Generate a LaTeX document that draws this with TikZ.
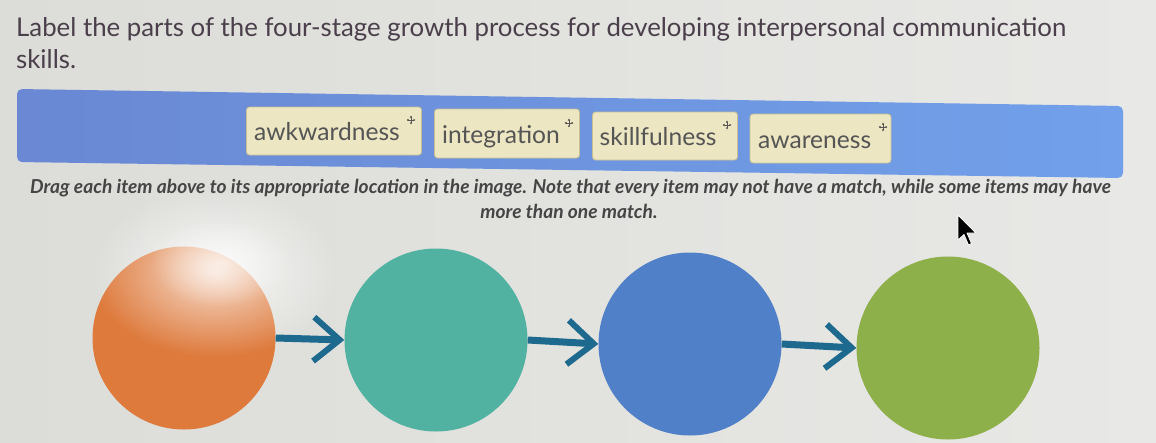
\documentclass[tikz,border=0pt]{standalone}
\usepackage{fontspec}
\setmainfont{Lato}
\usetikzlibrary{arrows.meta,fadings}
\definecolor{bgL}{HTML}{DCDCD8}
\definecolor{bgR}{HTML}{E8E8E6}
\definecolor{bandL}{HTML}{6A88D3}
\definecolor{bandR}{HTML}{72A0EA}
\definecolor{tilefill}{HTML}{ECE6C2}
\definecolor{tileedge}{HTML}{C9BF90}
\definecolor{tiletext}{HTML}{555555}
\definecolor{titletext}{HTML}{4A3F4A}
\definecolor{insttext}{HTML}{454545}
\definecolor{corange}{HTML}{DE7A3C}
\definecolor{cteal}{HTML}{52B2A2}
\definecolor{cblue}{HTML}{5080C8}
\definecolor{cgreen}{HTML}{8DB04B}
\definecolor{arrowc}{HTML}{1D6A8E}
\tikzfading[name=glare, inner color=transparent!0, outer color=transparent!100]
\tikzset{
  tile/.style={draw=tileedge, line width=0.8pt, fill=tilefill, rounded corners=3pt, inner sep=0pt},
  tiletxt/.style={anchor=base west, inner sep=0pt, text=tiletext, font=\fontsize{24.6}{28}\selectfont},
  titletxt/.style={anchor=base west, inner sep=0pt, text=titletext, font=\fontsize{25.8}{30}\selectfont},
  insttxt/.style={inner sep=0pt, text=insttext, font=\fontsize{19.2}{22}\selectfont\bfseries\itshape},
  stage/.style={circle, inner sep=0pt, minimum size=183pt},
  flow/.style={draw=arrowc, line width=7pt, -{Straight Barb[length=26pt, width=44pt, line width=6pt]}},
  moveicon/.pic={\draw[tiletext, line width=0.6pt, {Latex[length=2pt,width=2.5pt]}-{Latex[length=2pt,width=2.5pt]}] (-4.5,0) -- (4.5,0);
                 \draw[tiletext, line width=0.6pt, {Latex[length=2pt,width=2.5pt]}-{Latex[length=2pt,width=2.5pt]}] (0,-4.5) -- (0,4.5);}
}
\begin{document}
\begin{tikzpicture}[x=1pt,y=-1pt]
\useasboundingbox (0,0) rectangle (1156,442);
\shade[left color=bgL, right color=bgR] (0,0) rectangle (1156,442);

% title
\node[titletxt] (title1) at (16,36)
  {Label the parts of the four-stage growth process for developing interpersonal communication};
\node[titletxt] (title2) at (16,68) {skills.};

% band
\shade[left color=bandL, right color=bandR, rounded corners=5pt] (17,89) -- (1123,106) -- (1123,178) -- (17,162) -- cycle;

% tiles
\node[tile, minimum width=175pt, minimum height=48pt] (t1) at (334,131) {};
\node[tile, minimum width=145pt, minimum height=49pt] (t2) at (507,133.5) {};
\node[tile, minimum width=145pt, minimum height=48pt] (t3) at (665,136) {};
\node[tile, minimum width=141pt, minimum height=49pt] (t4) at (820.5,138.5) {};
\node[tiletxt] (w1) at (254,140) {awkwardness};
\node[tiletxt] (w2) at (442,143) {integration};
\node[tiletxt] (w3) at (599.5,145) {skillfulness};
\node[tiletxt] (w4) at (758,148) {awareness};
\pic at (411,120) {moveicon};
\pic at (569,123) {moveicon};
\pic at (727,125) {moveicon};
\pic at (883,127) {moveicon};

% instructions
\node[insttxt, anchor=base west] (inst1) at (30,193)
  {Drag each item above to its appropriate location in the image. Note that every item may not have a match, while some items may have};
\node[insttxt, anchor=base] (inst2) at (569,218) {more than one match.};

% cursor
\filldraw[fill=black, draw=white, line width=0.8pt, line join=round]
  (958,215) -- (958,240) -- (964,234.5) -- (968.5,245) -- (971.5,243.5) -- (967,233) -- (976,233) -- cycle;

% stages
\node[stage, fill=corange] (c1) at (184,338) {};
\node[stage, fill=cteal] (c2) at (436,340) {};
\node[stage, fill=cblue] (c3) at (690,344) {};
\node[stage, fill=cgreen] (c4) at (948,348) {};
\fill[white, opacity=0.75, path fading=glare] (215,272) ellipse [x radius=125, y radius=85];
\fill[white, opacity=0.6, path fading=glare] (220,262) ellipse [x radius=70, y radius=45];

% connectors
\draw[flow] (c1.east) -- (c2.west);
\draw[flow] (c2.east) -- (c3.west);
\draw[flow] (c3.east) -- (c4.west);
\end{tikzpicture}
\end{document}
